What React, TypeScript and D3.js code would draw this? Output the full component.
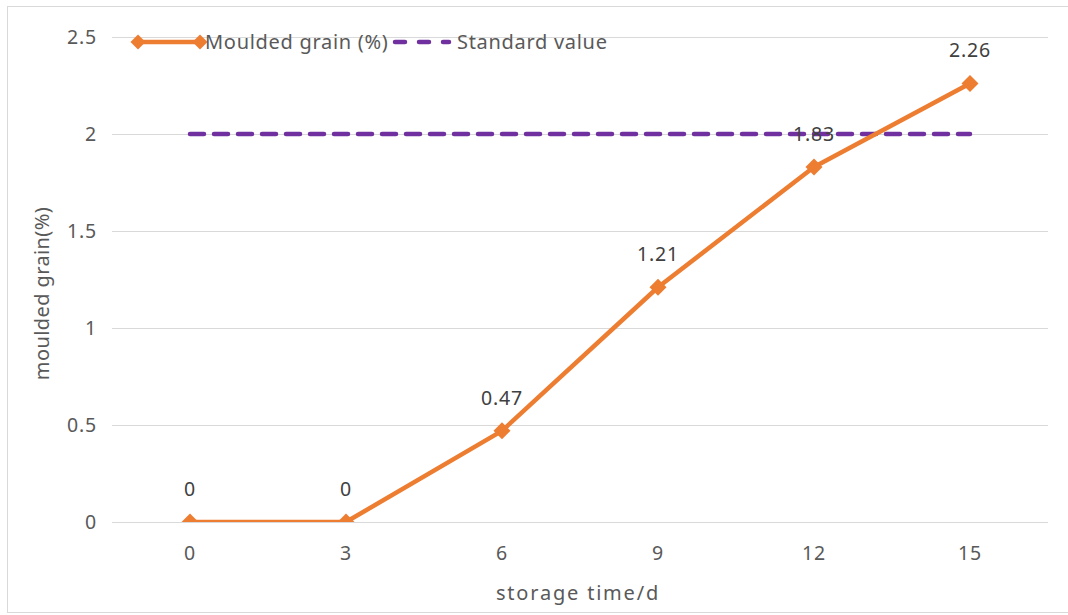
import React from "react";
import * as d3 from "d3";

const categories = ["0", "3", "6", "9", "12", "15"];
const mouldedGrain = [0, 0, 0.47, 1.21, 1.83, 2.26];
const standardValue = [2, 2, 2, 2, 2, 2];
const yTicks = [0, 0.5, 1, 1.5, 2, 2.5];
const yTickLabels = ["0", "0.5", "1", "1.5", "2", "2.5"];

const W = 1068;
const H = 615;
const left = 112;
const right = 1048;
const top = 37;
const bottom = 522;
const FONT = "'Noto Sans', 'Open Sans', sans-serif";
const TXT = "#595959";
const ORANGE = "#ED7D31";
const PURPLE = "#7030A0";
const LS = 0.7;

export default function App() {
  const x = d3.scaleBand<string>().domain(categories).range([left, right]);
  const cx = (c: string) => (x(c) as number) + x.bandwidth() / 2;
  const y = d3.scaleLinear().domain([0, 2.5]).range([bottom, top]);

  const line = d3
    .line<number>()
    .x((_, i) => cx(categories[i]))
    .y((d) => y(d));

  const diamond = (px: number, py: number, r: number) =>
    `M${px},${py - r}L${px + r},${py}L${px},${py + r}L${px - r},${py}Z`;

  return (
    <svg
      width={W}
      height={H}
      style={{ position: "absolute", left: 0, top: 0, background: "#fff" }}
      fontFamily={FONT}
    >
      <defs>
        <clipPath id="plot">
          <rect x={left} y={top - 20} width={right - left} height={bottom - top + 20} />
        </clipPath>
      </defs>
      <rect x={7.5} y={6.5} width={1070} height={606} fill="#fff" stroke="#d9d9d9" />
      {yTicks.map((t) => (
        <line
          key={t}
          x1={left}
          x2={right}
          y1={Math.round(y(t)) + 0.5}
          y2={Math.round(y(t)) + 0.5}
          stroke="#d9d9d9"
          strokeWidth={1}
        />
      ))}
      {yTicks.map((t, i) => (
        <text
          key={"yl" + t}
          x={97}
          y={y(t)}
          dy="0.35em"
          textAnchor="end"
          fontSize={19.5}
          letterSpacing={0.8}
          fill={TXT}
        >
          {yTickLabels[i]}
        </text>
      ))}
      {categories.map((c) => (
        <text
          key={"xl" + c}
          x={cx(c)}
          y={553}
          dy="0.35em"
          textAnchor="middle"
          fontSize={19.5}
          letterSpacing={0.8}
          fill={TXT}
        >
          {c}
        </text>
      ))}
      <text
        x={578}
        y={593}
        dy="0.35em"
        textAnchor="middle"
        fontSize={20}
        letterSpacing={1.8}
        fill={TXT}
      >
        storage time/d
      </text>
      <text
        transform={`translate(42,${(top + bottom) / 2 + 14}) rotate(-90)`}
        dy="0.35em"
        textAnchor="middle"
        fontSize={20}
        letterSpacing={0.4}
        fill={TXT}
      >
        moulded grain(%)
      </text>
      <path
        d={line(standardValue) as string}
        fill="none"
        stroke={PURPLE}
        strokeWidth={4.5}
        strokeDasharray="14,10"
        strokeLinecap="round"
      />
      <g clipPath="url(#plot)">
        <path
          d={line(mouldedGrain) as string}
          fill="none"
          stroke={ORANGE}
          strokeWidth={4.5}
          strokeLinejoin="round"
        />
        {mouldedGrain.map((v, i) => (
          <path key={"m" + i} d={diamond(cx(categories[i]), y(v), 8.5)} fill={ORANGE} />
        ))}
      </g>
      {mouldedGrain.map((v, i) => (
        <text
          key={"dl" + i}
          x={cx(categories[i])}
          y={y(v) - 33}
          dy="0.35em"
          textAnchor="middle"
          fontSize={19.5}
          letterSpacing={0.8}
          fill="#404040"
        >
          {String(v)}
        </text>
      ))}
      <g>
        <line x1={138} x2={200} y1={42} y2={42} stroke={ORANGE} strokeWidth={4.5} />
        <path d={diamond(138, 42, 7.5)} fill={ORANGE} />
        <path d={diamond(200, 42, 7.5)} fill={ORANGE} />
        <text x={205} y={42} dy="0.35em" fontSize={20} letterSpacing={LS} fill={TXT}>
          Moulded grain (%)
        </text>
        <line
          x1={395}
          x2={449}
          y1={42}
          y2={42}
          stroke={PURPLE}
          strokeWidth={4.5}
          strokeDasharray="10,14"
          strokeLinecap="round"
        />
        <text x={457} y={42} dy="0.35em" fontSize={20} letterSpacing={LS} fill={TXT}>
          Standard value
        </text>
      </g>
    </svg>
  );
}
